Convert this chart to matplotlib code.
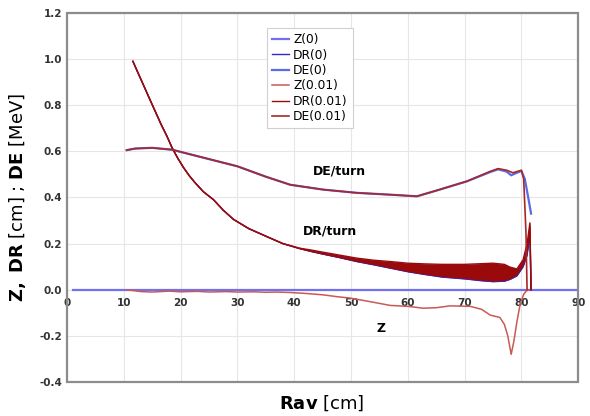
import matplotlib

matplotlib.use("Agg")
import matplotlib.pyplot as plt
from matplotlib.patches import Rectangle

# --- values ---
# Z(0): flat zero line
rav_z0 = [1, 90]
z_0 = [0.0, 0.0]

# Z(0.01)
rav_z = [10.5, 13, 15, 18, 20, 23, 25, 28, 30, 33, 35, 37, 39.3, 42, 45, 47.5, 49.8,
         53, 56.9, 60, 62.7, 65, 67.4, 71, 73, 74.5, 76.2, 77, 77.6, 78.2, 78.7, 79.2,
         79.8, 80.4, 80.9, 81.5]
z_01 = [0.0, -0.008, -0.01, -0.006, -0.009, -0.007, -0.01, -0.008, -0.01, -0.009,
        -0.011, -0.01, -0.012, -0.016, -0.022, -0.03, -0.036, -0.05, -0.068, -0.072,
        -0.08, -0.078, -0.07, -0.072, -0.085, -0.11, -0.12, -0.15, -0.2, -0.28, -0.22,
        -0.14, -0.06, -0.02, -0.004, 0.0]

# DE/turn, eps = 0.01 (red) and eps = 0 (blue)
rav_de = [10.5, 12, 15, 18.5, 22, 26, 30, 35, 39.3, 45.1, 51, 56.9, 61.6, 65.6,
          70.4, 74.5, 75.9, 77.4, 78.5, 80, 80.4, 80.8, 81.0]
de_01 = [0.605, 0.612, 0.615, 0.607, 0.585, 0.56, 0.535, 0.49, 0.455, 0.434, 0.42,
         0.412, 0.405, 0.434, 0.47, 0.513, 0.525, 0.518, 0.507, 0.518, 0.48, 0.25, 0.0]
rav_de0 = [10.5, 12, 15, 18.5, 22, 26, 30, 35, 39.3, 45.1, 51, 56.9, 61.6, 65.6,
           70.4, 74.5, 75.9, 77.4, 78.2, 79, 80, 80.6, 81.2, 81.7]
de_0 = [0.605, 0.612, 0.615, 0.607, 0.585, 0.56, 0.535, 0.49, 0.455, 0.434, 0.42,
        0.412, 0.405, 0.434, 0.47, 0.51, 0.522, 0.512, 0.496, 0.505, 0.515, 0.48,
        0.40, 0.33]

# DR/turn: lower / upper envelope of the oscillating curve
rav_dr = [11.6, 12.5, 13.5, 14.6, 15.5, 16.5, 17.6, 18.5, 19.5, 20.5, 21.5, 22.5,
          24, 25.8, 27.5, 29.3, 32, 35.2, 38, 41, 43, 45, 48, 51, 54, 57, 60, 63,
          66, 70, 73, 75, 77, 78, 79.2, 80.3, 81.0, 81.5, 81.7]
dr_lo_01 = [0.99, 0.94, 0.885, 0.824, 0.775, 0.72, 0.665, 0.615, 0.57, 0.53, 0.495,
            0.465, 0.425, 0.39, 0.345, 0.305, 0.265, 0.23, 0.2, 0.178, 0.166, 0.155,
            0.14, 0.124, 0.11, 0.095, 0.08, 0.068, 0.058, 0.05, 0.042, 0.038, 0.04,
            0.048, 0.065, 0.105, 0.16, 0.27, 0.0]
dr_hi_01 = [0.99, 0.94, 0.885, 0.824, 0.775, 0.72, 0.665, 0.615, 0.57, 0.53, 0.495,
            0.465, 0.425, 0.39, 0.345, 0.305, 0.265, 0.23, 0.2, 0.18, 0.172, 0.163,
            0.15, 0.137, 0.128, 0.122, 0.115, 0.112, 0.11, 0.11, 0.113, 0.115, 0.11,
            0.098, 0.09, 0.13, 0.2, 0.29, 0.0]
dr_lo_0 = [0.99, 0.94, 0.885, 0.824, 0.775, 0.72, 0.665, 0.615, 0.57, 0.53, 0.495,
           0.465, 0.425, 0.39, 0.345, 0.305, 0.265, 0.23, 0.2, 0.178, 0.166, 0.155,
           0.139, 0.122, 0.108, 0.093, 0.078, 0.066, 0.055, 0.047, 0.039, 0.035,
           0.037, 0.045, 0.06, 0.1, 0.15, 0.24, 0.0]
dr_hi_0 = [0.99, 0.94, 0.885, 0.824, 0.775, 0.72, 0.665, 0.615, 0.57, 0.53, 0.495,
           0.465, 0.425, 0.39, 0.345, 0.305, 0.265, 0.23, 0.2, 0.18, 0.172, 0.163,
           0.15, 0.137, 0.128, 0.122, 0.115, 0.112, 0.11, 0.11, 0.113, 0.115, 0.11,
           0.098, 0.092, 0.135, 0.2, 0.26, 0.0]

C_Z0, C_DR0, C_DE0 = "#7070f0", "#2a2ad0", "#5a6ae8"
C_Z1, C_DR1, C_DE1 = "#c85a55", "#9a0a0a", "#a82828"

fig = plt.figure(figsize=(5.9, 4.16), dpi=100)
ax = fig.add_axes([0.1136, 0.0817, 0.8664, 0.8873])

ax.set_xlim(0, 90)
ax.set_ylim(-0.4, 1.2)
ax.set_xticks(range(0, 91, 10))
ax.set_yticks([-0.4, -0.2, 0.0, 0.2, 0.4, 0.6, 0.8, 1.0, 1.2])
ax.set_yticklabels([f"{v:.1f}" for v in ax.get_yticks()])
ax.grid(True, color="#e6e6e6", lw=0.8)
ax.set_axisbelow(True)

# blue (eps = 0) first, red (eps = 0.01) on top
ax.plot(rav_z0, z_0, color=C_Z0, lw=1.6, label="Z(0)")
ax.fill_between(rav_dr, dr_lo_0, dr_hi_0, color=C_DR0, lw=0)
ax.plot(rav_dr, dr_lo_0, color=C_DR0, lw=1.0, label="DR(0)")
ax.plot(rav_de0, de_0, color=C_DE0, lw=1.6, label="DE(0)")

ax.plot(rav_z, z_01, color=C_Z1, lw=1.1, label="Z(0.01)")
ax.fill_between(rav_dr, dr_lo_01, dr_hi_01, color=C_DR1, lw=0)
ax.plot(rav_dr, dr_lo_01, color=C_DR1, lw=1.0)
ax.plot(rav_dr, dr_hi_01, color=C_DR1, lw=1.0, label="DR(0.01)")
ax.plot(rav_de, de_01, color=C_DE1, lw=1.2, label="DE(0.01)")

ax.text(47.9, 0.516, "DE/turn", fontsize=9, fontweight="bold", ha="center", va="center")
ax.text(46.3, 0.256, "DR/turn", fontsize=9, fontweight="bold", ha="center", va="center")
ax.text(55.3, -0.17, "Z", fontsize=9, fontweight="bold", ha="center", va="center")

# x axis drawn through y = 0, plot area framed in gray
for s in ax.spines.values():
    s.set_visible(False)
ax.spines["bottom"].set_position(("data", 0))
ax.add_patch(Rectangle((0, 0), 1, 1, transform=ax.transAxes, fill=False,
                       ec="#8c8c8c", lw=1.6, clip_on=False, zorder=5))
ax.tick_params(length=0, labelsize=7.5, colors="#333333")
ax.tick_params(axis="x", pad=6)
for t in ax.get_xticklabels() + ax.get_yticklabels():
    t.set_fontweight("bold")

ax.set_ylabel(r"$\mathbf{Z,\ DR}$ [cm] ; $\mathbf{DE}$ [MeV]", fontsize=13, labelpad=8)
fig.text(0.546, 0.03, r"$\mathbf{Rav}$ [cm]", fontsize=13, ha="center", va="center")

leg = ax.legend(loc="upper left", bbox_to_anchor=(0.38, 0.975), fontsize=8.8,
                handlelength=1.4, handletextpad=0.3, labelspacing=0.2,
                borderpad=0.4, fancybox=False, framealpha=1, edgecolor="#d0d0d0")
leg.get_frame().set_linewidth(0.8)

fig.savefig("out.png", dpi=100)
